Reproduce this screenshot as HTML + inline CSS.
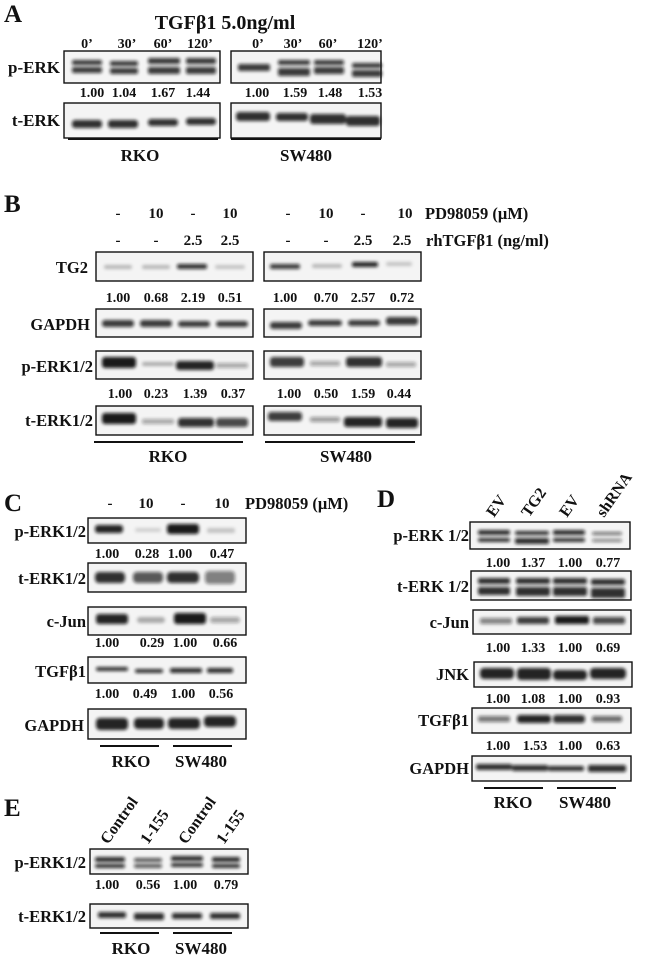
<!DOCTYPE html>
<html><head><meta charset="utf-8"><style>
html,body{margin:0;padding:0;background:#fff;}
svg{display:block;}
text{font-family:"Liberation Serif",serif;font-weight:bold;fill:#111;}
.box{fill:#f4f4f4;stroke:#111;stroke-width:1.4;}
.b{fill:#111;filter:url(#bl);}
.l{font-size:16.5px;text-anchor:end;}
.n{font-size:14px;text-anchor:middle;}
.h{font-size:14px;text-anchor:middle;}
.P{font-size:25px;}
.c{font-size:17px;text-anchor:middle;}
.ln{stroke:#111;stroke-width:2;}
</style></head><body>
<svg width="650" height="960" viewBox="0 0 650 960" xmlns="http://www.w3.org/2000/svg">
<defs><filter id="bl" x="-30%" y="-100%" width="160%" height="300%"><feGaussianBlur stdDeviation="1.6"/></filter></defs>

<!-- PANEL A -->
<text x="4" y="22" class="P">A</text>
<text x="225" y="29" style="font-size:20px;text-anchor:middle">TGFβ1 5.0ng/ml</text>
<g class="h" style="font-size:14px"><text x="87" y="48">0’</text><text x="127" y="48">30’</text><text x="163" y="48">60’</text><text x="200" y="48">120’</text>
<text x="258" y="48">0’</text><text x="293" y="48">30’</text><text x="328" y="48">60’</text><text x="370" y="48">120’</text></g>
<rect class="box" x="64" y="51" width="156" height="32"/><rect class="box" x="231" y="51" width="150" height="32"/>
<g class="b" opacity="0.8">
<rect x="72" y="60" width="30" height="5" rx="2"/><rect x="72" y="67" width="30" height="6" rx="2"/>
<rect x="110" y="61" width="28" height="5" rx="2"/><rect x="110" y="68" width="28" height="6" rx="2"/>
<rect x="148" y="58" width="32" height="6" rx="2"/><rect x="148" y="67" width="32" height="7" rx="2"/>
<rect x="186" y="58" width="30" height="6" rx="2"/><rect x="186" y="67" width="30" height="7" rx="2"/>
<rect x="238" y="64" width="32" height="7" rx="2"/>
<rect x="278" y="60" width="32" height="5" rx="2"/><rect x="278" y="68" width="32" height="8" rx="2"/>
<rect x="314" y="60" width="30" height="5" rx="2"/><rect x="314" y="67" width="30" height="7" rx="2"/>
<rect x="352" y="63" width="30" height="5" rx="2"/><rect x="352" y="70" width="30" height="7" rx="2"/>
</g>
<g class="n"><text x="92" y="97">1.00</text><text x="124" y="97">1.04</text><text x="163" y="97">1.67</text><text x="198" y="97">1.44</text>
<text x="257" y="97">1.00</text><text x="295" y="97">1.59</text><text x="330" y="97">1.48</text><text x="370" y="97">1.53</text></g>
<rect class="box" x="64" y="103" width="156" height="35"/><rect class="box" x="231" y="103" width="150" height="35"/>
<g class="b" opacity="0.85">
<rect x="72" y="120" width="30" height="8" rx="3"/><rect x="108" y="120" width="30" height="8" rx="3"/><rect x="148" y="119" width="30" height="7" rx="3"/><rect x="186" y="118" width="30" height="7" rx="3"/>
<rect x="236" y="112" width="34" height="9" rx="3"/><rect x="276" y="113" width="32" height="8" rx="3"/><rect x="310" y="114" width="36" height="10" rx="3"/><rect x="346" y="116" width="34" height="10" rx="3"/>
</g>
<text x="60" y="73" class="l" style="font-size:17px">p-ERK</text>
<text x="60" y="126" class="l" style="font-size:17px">t-ERK</text>
<line class="ln" x1="68" y1="139" x2="218" y2="139"/><line class="ln" x1="231" y1="139" x2="381" y2="139"/>
<text x="140" y="161" class="c">RKO</text><text x="306" y="161" class="c">SW480</text>

<!-- PANEL B -->
<text x="4" y="212" class="P">B</text>
<g class="h" style="font-size:15px"><text x="118" y="218">-</text><text x="156" y="218">10</text><text x="193" y="218">-</text><text x="230" y="218">10</text>
<text x="288" y="218">-</text><text x="326" y="218">10</text><text x="363" y="218">-</text><text x="405" y="218">10</text>
<text x="118" y="245">-</text><text x="156" y="245">-</text><text x="193" y="245">2.5</text><text x="230" y="245">2.5</text>
<text x="288" y="245">-</text><text x="326" y="245">-</text><text x="363" y="245">2.5</text><text x="402" y="245">2.5</text></g>
<text x="425" y="219" style="font-size:16.5px">PD98059 (μM)</text>
<text x="426" y="246" style="font-size:16.5px">rhTGFβ1 (ng/ml)</text>
<text x="88" y="273" class="l">TG2</text><text x="90" y="330" class="l">GAPDH</text><text x="93" y="372" class="l">p-ERK1/2</text><text x="93" y="426" class="l">t-ERK1/2</text>
<rect class="box" x="96" y="252" width="157" height="29"/><rect class="box" x="264" y="252" width="157" height="29"/>
<g class="b">
<rect x="104" y="265" width="28" height="4" rx="2" opacity="0.25"/><rect x="142" y="265" width="28" height="4" rx="2" opacity="0.25"/><rect x="177" y="264" width="30" height="5" rx="2" opacity="0.85"/><rect x="215" y="265" width="30" height="4" rx="2" opacity="0.2"/>
<rect x="270" y="264" width="30" height="5" rx="2" opacity="0.8"/><rect x="312" y="264" width="30" height="4" rx="2" opacity="0.25"/><rect x="352" y="262" width="26" height="5" rx="2" opacity="0.9"/><rect x="386" y="262" width="26" height="4" rx="2" opacity="0.2"/>
</g>
<g class="n"><text x="118" y="302">1.00</text><text x="156" y="302">0.68</text><text x="193" y="302">2.19</text><text x="230" y="302">0.51</text>
<text x="285" y="302">1.00</text><text x="326" y="302">0.70</text><text x="363" y="302">2.57</text><text x="402" y="302">0.72</text></g>
<rect class="box" x="96" y="309" width="157" height="28"/><rect class="box" x="264" y="309" width="157" height="28"/>
<g class="b" opacity="0.8">
<rect x="102" y="320" width="32" height="7" rx="3"/><rect x="140" y="320" width="32" height="7" rx="3"/><rect x="178" y="321" width="32" height="6" rx="3"/><rect x="216" y="321" width="32" height="6" rx="3"/>
<rect x="270" y="322" width="32" height="7" rx="3"/><rect x="308" y="320" width="34" height="6" rx="3"/><rect x="348" y="320" width="32" height="6" rx="3"/><rect x="386" y="317" width="32" height="8" rx="3"/>
</g>
<rect class="box" x="96" y="351" width="157" height="28"/><rect class="box" x="264" y="351" width="157" height="28"/>
<g class="b">
<rect x="102" y="357" width="34" height="11" rx="3" opacity="0.95"/><rect x="142" y="362" width="32" height="4" rx="2" opacity="0.3"/><rect x="176" y="361" width="38" height="9" rx="3" opacity="0.9"/><rect x="216" y="363" width="32" height="5" rx="2" opacity="0.35"/>
<rect x="270" y="357" width="34" height="10" rx="3" opacity="0.8"/><rect x="310" y="361" width="30" height="5" rx="2" opacity="0.35"/><rect x="346" y="357" width="36" height="10" rx="3" opacity="0.85"/><rect x="386" y="362" width="30" height="5" rx="2" opacity="0.35"/>
</g>
<g class="n"><text x="120" y="398">1.00</text><text x="156" y="398">0.23</text><text x="195" y="398">1.39</text><text x="233" y="398">0.37</text>
<text x="289" y="398">1.00</text><text x="326" y="398">0.50</text><text x="363" y="398">1.59</text><text x="399" y="398">0.44</text></g>
<rect class="box" x="96" y="406" width="157" height="29"/><rect class="box" x="264" y="406" width="157" height="29"/>
<g class="b">
<rect x="102" y="413" width="34" height="11" rx="3" opacity="0.95"/><rect x="142" y="419" width="32" height="5" rx="2" opacity="0.35"/><rect x="178" y="418" width="36" height="9" rx="3" opacity="0.85"/><rect x="216" y="418" width="32" height="9" rx="3" opacity="0.75"/>
<rect x="268" y="412" width="34" height="9" rx="3" opacity="0.8"/><rect x="310" y="417" width="30" height="5" rx="2" opacity="0.4"/><rect x="344" y="417" width="38" height="10" rx="3" opacity="0.9"/><rect x="386" y="418" width="32" height="10" rx="3" opacity="0.9"/>
</g>
<line class="ln" x1="94" y1="442" x2="243" y2="442"/><line class="ln" x1="265" y1="442" x2="415" y2="442"/>
<text x="168" y="462" class="c">RKO</text><text x="346" y="462" class="c">SW480</text>

<!-- PANEL C -->
<text x="4" y="511" class="P">C</text>
<g class="h" style="font-size:15px"><text x="110" y="508">-</text><text x="146" y="508">10</text><text x="183" y="508">-</text><text x="222" y="508">10</text></g>
<text x="245" y="509" style="font-size:16.5px">PD98059 (μM)</text>
<text x="86" y="537" class="l">p-ERK1/2</text><text x="86" y="584" class="l">t-ERK1/2</text><text x="86" y="627" class="l">c-Jun</text><text x="86" y="677" class="l">TGFβ1</text><text x="84" y="731" class="l">GAPDH</text>
<rect class="box" x="88" y="518" width="158" height="25"/>
<g class="b"><rect x="95" y="525" width="28" height="8" rx="3" opacity="0.9"/><rect x="135" y="528" width="26" height="4" rx="2" opacity="0.15"/><rect x="167" y="524" width="32" height="10" rx="3" opacity="0.95"/><rect x="207" y="528" width="28" height="5" rx="2" opacity="0.2"/></g>
<g class="n"><text x="107" y="558">1.00</text><text x="147" y="558">0.28</text><text x="180" y="558">1.00</text><text x="222" y="558">0.47</text></g>
<rect class="box" x="88" y="563" width="158" height="29"/>
<g class="b" opacity="0.85"><rect x="95" y="572" width="30" height="11" rx="4"/><rect x="133" y="572" width="30" height="11" rx="4" opacity="0.8"/><rect x="167" y="572" width="32" height="11" rx="4"/><rect x="205" y="571" width="30" height="13" rx="4" opacity="0.6"/></g>
<rect class="box" x="88" y="607" width="158" height="28"/>
<g class="b"><rect x="96" y="614" width="32" height="10" rx="3" opacity="0.9"/><rect x="137" y="617" width="28" height="6" rx="3" opacity="0.3"/><rect x="174" y="613" width="32" height="11" rx="3" opacity="0.95"/><rect x="210" y="617" width="30" height="6" rx="3" opacity="0.35"/></g>
<g class="n"><text x="107" y="647">1.00</text><text x="152" y="647">0.29</text><text x="185" y="647">1.00</text><text x="225" y="647">0.66</text></g>
<rect class="box" x="88" y="657" width="158" height="26"/>
<g class="b" opacity="0.85"><rect x="96" y="667" width="32" height="4" rx="2"/><rect x="135" y="669" width="28" height="4" rx="2"/><rect x="170" y="668" width="32" height="5" rx="2"/><rect x="207" y="668" width="26" height="5" rx="2"/></g>
<g class="n"><text x="107" y="698">1.00</text><text x="145" y="698">0.49</text><text x="183" y="698">1.00</text><text x="221" y="698">0.56</text></g>
<rect class="box" x="88" y="709" width="158" height="30"/>
<g class="b" opacity="0.9"><rect x="96" y="718" width="32" height="12" rx="4"/><rect x="134" y="718" width="30" height="11" rx="4"/><rect x="168" y="718" width="32" height="11" rx="4"/><rect x="204" y="716" width="32" height="11" rx="4"/></g>
<line class="ln" x1="100" y1="746" x2="159" y2="746"/><line class="ln" x1="173" y1="746" x2="232" y2="746"/>
<text x="131" y="767" class="c">RKO</text><text x="201" y="767" class="c">SW480</text>

<!-- PANEL D -->
<text x="377" y="507" class="P">D</text>
<g style="font-size:16px"><text transform="translate(494,518) rotate(-55)">EV</text><text transform="translate(529,518) rotate(-55)">TG2</text><text transform="translate(567,518) rotate(-55)">EV</text><text transform="translate(604,518) rotate(-55)">shRNA</text></g>
<text x="469" y="541" class="l">p-ERK 1/2</text><text x="469" y="592" class="l">t-ERK 1/2</text><text x="469" y="628" class="l">c-Jun</text><text x="469" y="680" class="l">JNK</text><text x="469" y="726" class="l">TGFβ1</text><text x="469" y="774" class="l">GAPDH</text>
<rect class="box" x="470" y="522" width="160" height="27"/>
<g class="b" opacity="0.85"><rect x="478" y="530" width="32" height="5" rx="2"/><rect x="478" y="538" width="32" height="4" rx="2"/><rect x="515" y="531" width="34" height="4" rx="2"/><rect x="515" y="538" width="34" height="6" rx="2"/><rect x="553" y="530" width="32" height="5" rx="2"/><rect x="553" y="538" width="32" height="4" rx="2"/><rect x="592" y="532" width="30" height="3" rx="2" opacity="0.7"/><rect x="592" y="539" width="30" height="3" rx="2" opacity="0.6"/></g>
<g class="n"><text x="498" y="567">1.00</text><text x="533" y="567">1.37</text><text x="570" y="567">1.00</text><text x="608" y="567">0.77</text></g>
<rect class="box" x="471" y="571" width="160" height="29"/>
<g class="b" opacity="0.85"><rect x="478" y="578" width="32" height="6" rx="2"/><rect x="478" y="587" width="32" height="8" rx="2"/><rect x="516" y="578" width="34" height="6" rx="2"/><rect x="516" y="587" width="34" height="9" rx="2"/><rect x="553" y="578" width="34" height="6" rx="2"/><rect x="553" y="587" width="34" height="9" rx="2"/><rect x="591" y="579" width="34" height="6" rx="2"/><rect x="591" y="588" width="34" height="10" rx="2"/></g>
<rect class="box" x="473" y="610" width="158" height="24"/>
<g class="b"><rect x="480" y="618" width="32" height="6" rx="2" opacity="0.5"/><rect x="517" y="617" width="32" height="7" rx="2" opacity="0.8"/><rect x="555" y="616" width="34" height="8" rx="2" opacity="0.95"/><rect x="593" y="617" width="32" height="7" rx="2" opacity="0.75"/></g>
<g class="n"><text x="498" y="652">1.00</text><text x="533" y="652">1.33</text><text x="570" y="652">1.00</text><text x="608" y="652">0.69</text></g>
<rect class="box" x="474" y="662" width="158" height="25"/>
<g class="b" opacity="0.9"><rect x="480" y="668" width="34" height="11" rx="4"/><rect x="517" y="668" width="34" height="12" rx="4"/><rect x="553" y="670" width="34" height="10" rx="4"/><rect x="590" y="668" width="36" height="11" rx="4"/></g>
<g class="n"><text x="498" y="703">1.00</text><text x="533" y="703">1.08</text><text x="570" y="703">1.00</text><text x="608" y="703">0.93</text></g>
<rect class="box" x="472" y="708" width="159" height="25"/>
<g class="b"><rect x="478" y="716" width="32" height="6" rx="2" opacity="0.55"/><rect x="517" y="715" width="34" height="8" rx="3" opacity="0.9"/><rect x="553" y="715" width="32" height="8" rx="3" opacity="0.85"/><rect x="592" y="716" width="30" height="6" rx="2" opacity="0.6"/></g>
<g class="n"><text x="498" y="750">1.00</text><text x="535" y="750">1.53</text><text x="570" y="750">1.00</text><text x="608" y="750">0.63</text></g>
<rect class="box" x="472" y="756" width="159" height="25"/>
<g class="b" opacity="0.85"><rect x="476" y="764" width="36" height="6" rx="2"/><rect x="512" y="765" width="36" height="6" rx="2"/><rect x="548" y="766" width="36" height="5" rx="2"/><rect x="588" y="765" width="38" height="7" rx="2"/></g>
<line class="ln" x1="484" y1="788" x2="543" y2="788"/><line class="ln" x1="557" y1="788" x2="616" y2="788"/>
<text x="513" y="808" class="c">RKO</text><text x="585" y="808" class="c">SW480</text>

<!-- PANEL E -->
<text x="4" y="816" class="P">E</text>
<g style="font-size:16px"><text transform="translate(108,845) rotate(-55)">Control</text><text transform="translate(148,845) rotate(-55)">1-155</text><text transform="translate(186,845) rotate(-55)">Control</text><text transform="translate(224,845) rotate(-55)">1-155</text></g>
<text x="86" y="868" class="l">p-ERK1/2</text><text x="86" y="922" class="l">t-ERK1/2</text>
<rect class="box" x="90" y="849" width="158" height="25"/>
<g class="b" opacity="0.85"><rect x="95" y="857" width="30" height="5" rx="2"/><rect x="95" y="864" width="30" height="4" rx="2"/><rect x="134" y="858" width="28" height="4" rx="2" opacity="0.8"/><rect x="134" y="864" width="28" height="4" rx="2" opacity="0.8"/><rect x="171" y="856" width="32" height="5" rx="2"/><rect x="171" y="863" width="32" height="4" rx="2"/><rect x="212" y="857" width="28" height="5" rx="2"/><rect x="212" y="864" width="28" height="4" rx="2"/></g>
<g class="n"><text x="107" y="889">1.00</text><text x="148" y="889">0.56</text><text x="185" y="889">1.00</text><text x="226" y="889">0.79</text></g>
<rect class="box" x="90" y="904" width="158" height="24"/>
<g class="b" opacity="0.85"><rect x="98" y="912" width="28" height="6" rx="2"/><rect x="134" y="913" width="30" height="7" rx="2"/><rect x="172" y="913" width="30" height="6" rx="2"/><rect x="210" y="913" width="30" height="6" rx="2"/></g>
<line class="ln" x1="100" y1="933" x2="159" y2="933"/><line class="ln" x1="173" y1="933" x2="232" y2="933"/>
<text x="131" y="954" class="c">RKO</text><text x="201" y="954" class="c">SW480</text>
</svg>
</body></html>
